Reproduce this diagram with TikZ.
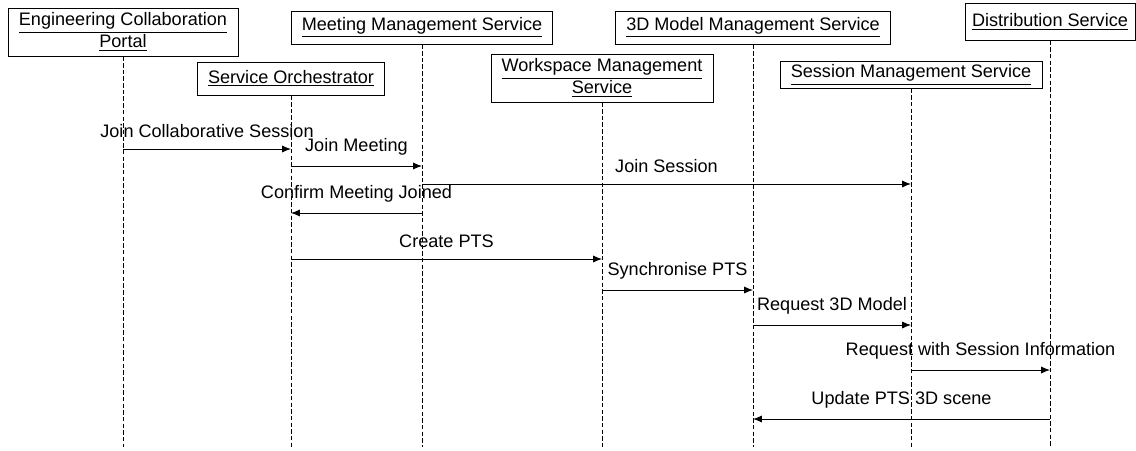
\documentclass[tikz,border=0pt]{standalone}
\usepackage{fontspec}
\setmainfont{Liberation Sans}
\usetikzlibrary{arrows.meta}
\begin{document}
\begin{tikzpicture}[x=0.02cm, y=-0.02cm,
        font=\fontsize{10.3}{10.6}\selectfont,
        actor/.style={draw, line width=0.5pt, align=center, inner sep=0pt},
        life/.style={line width=0.5pt, dash pattern=on 2.5pt off 1.3pt},
        msg/.style={line width=0.5pt, -{Latex[length=5pt, width=4pt]}},
        lbl/.style={above=6pt, inner sep=0pt}]
    \useasboundingbox (0, 0) rectangle (1136, 450);

    \node[actor, minimum width=4.6cm, minimum height=0.96cm] (portal) at (123, 32) {\underline{Engineering Collaboration}\\\underline{Portal}};
    \node[actor, minimum width=3.74cm, minimum height=0.66cm] (orch) at (291, 78.5) {\underline{Service Orchestrator}};
    \node[actor, minimum width=5.22cm, minimum height=0.66cm] (meeting) at (422, 27.5) {\underline{Meeting Management Service}};
    \node[actor, minimum width=4.44cm, minimum height=0.96cm] (workspace) at (602, 78) {\underline{Workspace Management}\\\underline{Service}};
    \node[actor, minimum width=5.5cm, minimum height=0.66cm] (model) at (753, 27.5) {\underline{3D Model Management Service}};
    \node[actor, minimum width=5.24cm, minimum height=0.53cm] (session) at (911, 75) {\underline{Session Management Service}};
    \node[actor, minimum width=3.4cm, minimum height=0.73cm] (distrib) at (1050, 22) {\underline{Distribution Service}};

    \coordinate (bottom) at (0, 447);
    \draw[life] (portal.south) -- (portal |- bottom);
    \draw[life] (orch.south) -- (orch |- bottom);
    \draw[life] (meeting.south) -- (meeting |- bottom);
    \draw[life] (workspace.south) -- (workspace |- bottom);
    \draw[life] (model.south) -- (model |- bottom);
    \draw[life] (session.south) -- (session |- bottom);
    \draw[life] (distrib.south) -- (distrib |- bottom);

    \coordinate (r1) at (0, 149);
    \coordinate (r2) at (0, 166);
    \coordinate (r3) at (0, 184);
    \coordinate (r4) at (0, 213);
    \coordinate (r5) at (0, 259);
    \coordinate (r6) at (0, 290);
    \coordinate (r7) at (0, 325);
    \coordinate (r8) at (0, 370);
    \coordinate (r9) at (0, 419);

    \draw[msg] (portal |- r1) -- (orch |- r1) node[midway, lbl] {Join Collaborative Session};
    \draw[msg] (orch |- r2) -- (meeting |- r2) node[midway, lbl] {Join Meeting};
    \draw[msg] (meeting |- r3) -- (session |- r3) node[midway, lbl] {Join Session};
    \draw[msg] (meeting |- r4) -- (orch |- r4) node[midway, lbl] {Confirm Meeting Joined};
    \draw[msg] (orch |- r5) -- (workspace |- r5) node[midway, lbl] {Create PTS};
    \draw[msg] (workspace |- r6) -- (model |- r6) node[midway, lbl] {Synchronise PTS};
    \draw[msg] (model |- r7) -- (session |- r7) node[midway, lbl] {Request 3D Model};
    \draw[msg] (session |- r8) -- (distrib |- r8) node[midway, lbl] {Request with Session Information};
    \draw[msg] (distrib |- r9) -- (model |- r9) node[midway, lbl] {Update PTS 3D scene};
\end{tikzpicture}
\end{document}
